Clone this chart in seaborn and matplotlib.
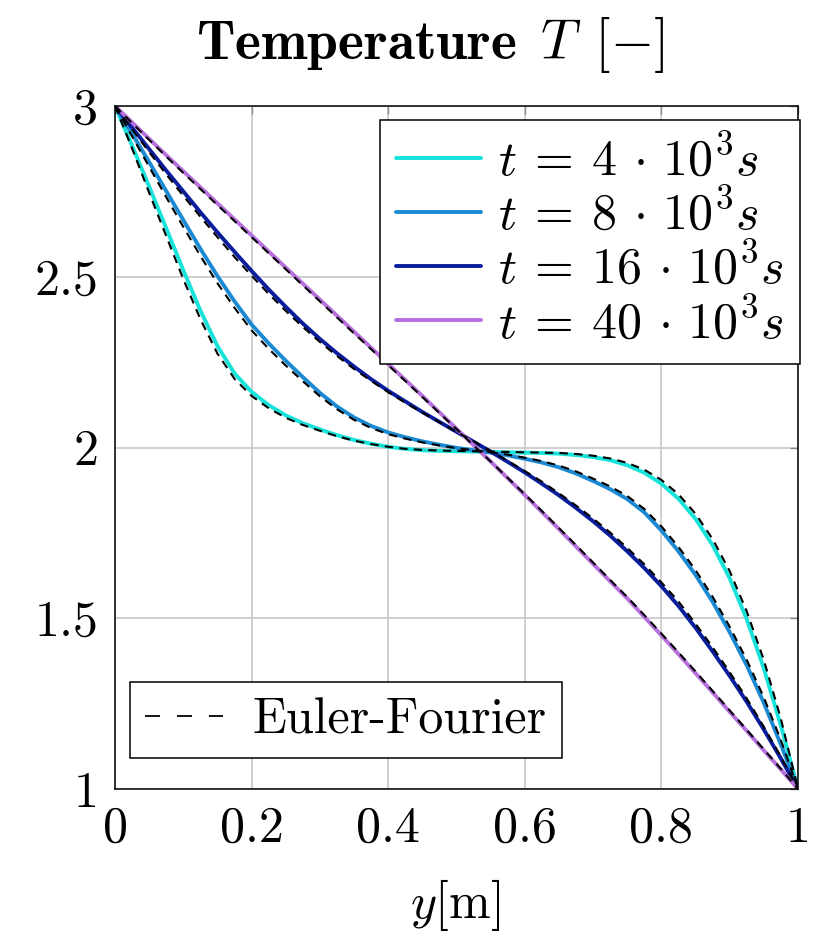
import matplotlib
matplotlib.use("Agg")
import matplotlib.pyplot as plt
from matplotlib.lines import Line2D
import seaborn as sns

# positions across the layer y [m]
y_pos = [0.0, 0.025, 0.05, 0.075, 0.1, 0.125, 0.15, 0.175, 0.2, 0.225, 0.25, 0.275, 0.3, 0.325,
         0.35, 0.375, 0.4, 0.425, 0.45, 0.475, 0.5, 0.525, 0.55, 0.575, 0.6, 0.625, 0.65, 0.675,
         0.7, 0.725, 0.75, 0.775, 0.8, 0.825, 0.85, 0.875, 0.9, 0.925, 0.95, 0.975, 1.0]

# numerical solution (solid lines)
T_4k = [3.0, 2.884, 2.764, 2.642, 2.519, 2.401, 2.297, 2.217, 2.163, 2.124, 2.094, 2.071, 2.053, 2.036,
        2.022, 2.011, 2.002, 1.996, 1.992, 1.99, 1.989, 1.988, 1.987, 1.986, 1.985, 1.984, 1.982, 1.978,
        1.972, 1.963, 1.948, 1.926, 1.894, 1.85, 1.791, 1.714, 1.617, 1.497, 1.353, 1.185, 1.0]
T_8k = [3.0, 2.919, 2.836, 2.751, 2.666, 2.582, 2.502, 2.428, 2.36, 2.305, 2.254, 2.206, 2.16, 2.12,
        2.088, 2.063, 2.044, 2.03, 2.018, 2.008, 1.999, 1.992, 1.985, 1.977, 1.967, 1.956, 1.942, 1.924,
        1.902, 1.878, 1.849, 1.81, 1.757, 1.696, 1.627, 1.548, 1.459, 1.362, 1.252, 1.13, 1.0]
T_16k = [3.0, 2.937, 2.874, 2.811, 2.75, 2.689, 2.63, 2.573, 2.517, 2.463, 2.412, 2.363, 2.318, 2.276,
         2.237, 2.2, 2.166, 2.135, 2.104, 2.075, 2.046, 2.017, 1.988, 1.958, 1.927, 1.894, 1.86, 1.823,
         1.784, 1.742, 1.696, 1.647, 1.594, 1.536, 1.472, 1.403, 1.331, 1.255, 1.174, 1.089, 1.0]
T_40k = [3.0, 2.952, 2.904, 2.856, 2.809, 2.762, 2.715, 2.668, 2.621, 2.574, 2.527, 2.48, 2.433, 2.386,
         2.339, 2.292, 2.245, 2.198, 2.151, 2.103, 2.055, 2.007, 1.959, 1.91, 1.861, 1.811, 1.761, 1.71,
         1.659, 1.608, 1.558, 1.504, 1.45, 1.395, 1.339, 1.283, 1.226, 1.17, 1.113, 1.057, 1.0]

# Euler-Fourier series solution (dashed lines)
EF_4k = [3.0, 2.876, 2.746, 2.619, 2.493, 2.376, 2.275, 2.201, 2.151, 2.115, 2.087, 2.066, 2.049, 2.033,
         2.02, 2.01, 2.002, 1.996, 1.993, 1.991, 1.99, 1.989, 1.988, 1.987, 1.986, 1.985, 1.984, 1.981,
         1.976, 1.968, 1.955, 1.935, 1.905, 1.863, 1.806, 1.732, 1.638, 1.52, 1.378, 1.205, 1.0]
EF_8k = [3.0, 2.911, 2.822, 2.733, 2.646, 2.561, 2.481, 2.409, 2.343, 2.289, 2.24, 2.194, 2.15, 2.112,
         2.081, 2.057, 2.039, 2.026, 2.015, 2.006, 1.998, 1.992, 1.986, 1.979, 1.97, 1.96, 1.947, 1.93,
         1.909, 1.886, 1.858, 1.82, 1.769, 1.709, 1.641, 1.563, 1.475, 1.378, 1.268, 1.143, 1.0]
EF_16k = [3.0, 2.932, 2.865, 2.8, 2.737, 2.676, 2.616, 2.558, 2.503, 2.45, 2.4, 2.353, 2.309, 2.268,
          2.23, 2.195, 2.162, 2.131, 2.102, 2.074, 2.046, 2.018, 1.99, 1.961, 1.931, 1.9, 1.866, 1.83,
          1.792, 1.751, 1.706, 1.658, 1.605, 1.549, 1.484, 1.415, 1.342, 1.265, 1.182, 1.094, 1.0]
EF_40k = [3.0, 2.95, 2.901, 2.852, 2.804, 2.757, 2.71, 2.663, 2.616, 2.569, 2.522, 2.475, 2.428, 2.381,
          2.334, 2.288, 2.241, 2.195, 2.148, 2.101, 2.054, 2.006, 1.959, 1.911, 1.863, 1.814, 1.764, 1.714,
          1.663, 1.612, 1.562, 1.509, 1.455, 1.4, 1.344, 1.287, 1.23, 1.173, 1.116, 1.059, 1.0]

labels = [r"$t \:=\: 4 \,\cdot\, 10^3 s$", r"$t \:=\: 8 \,\cdot\, 10^3 s$",
          r"$t \:=\: 16 \,\cdot\, 10^3 s$", r"$t \:=\: 40 \,\cdot\, 10^3 s$"]
colors = ["#17e3da", "#1b8ad2", "#0a1d9c", "#b66fdc"]

x_ticks = [0, 0.2, 0.4, 0.6, 0.8, 1]
x_ticklabels = ["0", "0.2", "0.4", "0.6", "0.8", "1"]
y_ticks = [1, 1.5, 2, 2.5, 3]
y_ticklabels = ["1", "1.5", "2", "2.5", "3"]

sns.set_theme(style="whitegrid")
plt.rcParams["font.family"] = ["cmr10", "DejaVu Sans"]
plt.rcParams["mathtext.fontset"] = "cm"
plt.rcParams["axes.formatter.use_mathtext"] = True
plt.rcParams["text.color"] = "black"

W, H = 830, 949
fig = plt.figure(figsize=(W / 100, H / 100), dpi=100)
ax = fig.add_axes([115 / W, 1 - 789 / H, (798 - 115) / W, (789 - 106) / H])

solid = [T_4k, T_8k, T_16k, T_40k]
dashed = [EF_4k, EF_8k, EF_16k, EF_40k]

for vals, col in zip(solid, colors):
    sns.lineplot(x=y_pos, y=vals, color=col, lw=2.8, ax=ax, legend=False, zorder=2)
for vals in dashed:
    sns.lineplot(x=y_pos, y=vals, color="black", lw=1.5, ax=ax, legend=False,
                 linestyle=(0, (4, 3)), zorder=3)

ax.set_xlim(0, 1)
ax.set_ylim(1, 3)
ax.set_xticks(x_ticks)
ax.set_xticklabels(x_ticklabels, fontsize=36)
ax.set_yticks(y_ticks)
ax.set_yticklabels(y_ticklabels, fontsize=36)
ax.set_xlabel("")
ax.set_ylabel("")
ax.grid(True, color="#c8c8c8", lw=1.2)
ax.set_axisbelow(True)
ax.tick_params(axis="both", direction="in", length=6, width=1, color="#888888",
               top=True, right=True, labelcolor="black")
ax.tick_params(axis="x", pad=12)
ax.tick_params(axis="y", pad=12)
for sp in ax.spines.values():
    sp.set_color("black")
    sp.set_linewidth(1.1)

# legend of the time curves
handles = [Line2D([], [], color=c, lw=2.8) for c in colors]
leg1 = ax.legend(handles, labels, loc="upper right", bbox_to_anchor=(800 / W, 1 - 120 / H),
                 bbox_transform=fig.transFigure, borderaxespad=0, fontsize=36,
                 frameon=True, fancybox=False, framealpha=1, edgecolor="black",
                 handlelength=1.7, handletextpad=0.34, labelspacing=0.1, borderpad=0.32)
leg1.get_frame().set_linewidth(1.1)
ax.add_artist(leg1)

ef_handle = Line2D([], [], color="black", lw=1.3, linestyle=(0, (8.3, 9.4)))
leg2 = ax.legend([ef_handle], ["Euler-Fourier"], loc="lower left",
                 bbox_to_anchor=(130 / W, 1 - 758 / H), bbox_transform=fig.transFigure,
                 borderaxespad=0, fontsize=36, frameon=True, fancybox=False, framealpha=1,
                 edgecolor="black", handlelength=1.55, handletextpad=0.6, borderpad=0.3)
leg2.get_frame().set_linewidth(1.1)

fig.text(430 / W, 1 - 45 / H, r"$\mathbf{Temperature}\enspace T\;\,[-]$", ha="center",
         va="center", fontsize=40)
fig.text(455 / W, 1 - 905 / H, r"$y$[m]", ha="center", va="center", fontsize=36)

fig.savefig("out.png", dpi=100, facecolor="white")
